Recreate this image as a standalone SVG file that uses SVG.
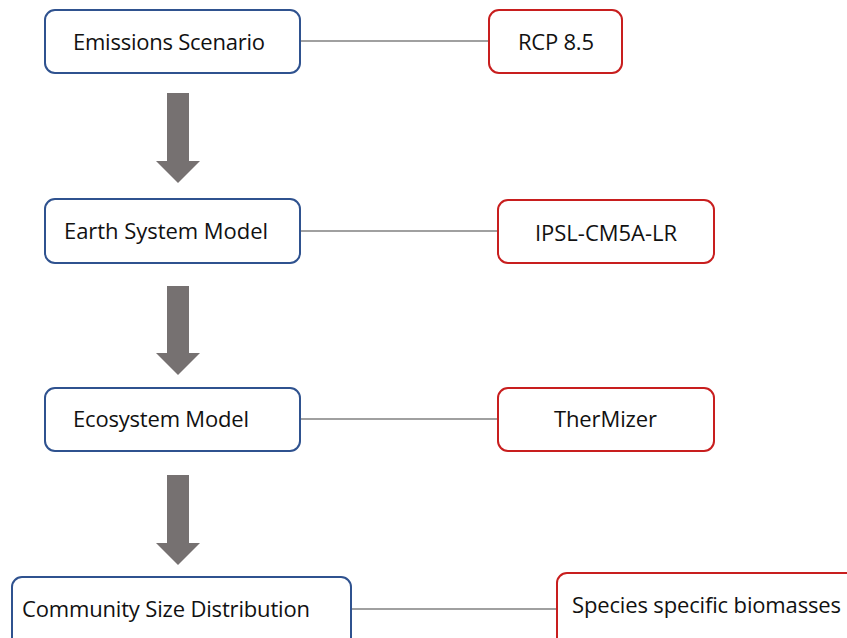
<svg xmlns="http://www.w3.org/2000/svg" width="847" height="638" viewBox="0 0 847 638">
<style>
.bl{fill:#fff;stroke:#2F528F;stroke-width:2}
.rd{fill:#fff;stroke:#C81E1E;stroke-width:2}
.t{font-family:"Open Sans","Liberation Sans",sans-serif;font-size:22px;fill:#111;font-variant-ligatures:none}
.ln{stroke:#808080;stroke-width:1.5;fill:none}
.ar{fill:#767171}
</style>
<rect width="847" height="638" fill="#fff"/>
<g id="connectors">
<line class="ln" x1="300" y1="41" x2="489" y2="41"/>
<line class="ln" x1="300" y1="231" x2="498" y2="231"/>
<line class="ln" x1="300" y1="419" x2="498" y2="419"/>
<line class="ln" x1="351" y1="609" x2="557" y2="609"/>
<polygon class="ar" points="167,93 189,93 189,161 200,161 178,183 156,161 167,161"/>
<polygon class="ar" points="167,286 189,286 189,353 200,353 178,375 156,353 167,353"/>
<polygon class="ar" points="167,475 189,475 189,543 200,543 178,565 156,543 167,543"/>
</g>
<g id="emissions">
<rect class="bl" x="45" y="10" width="255" height="63" rx="10"/>
<text class="t" x="73" y="50" textLength="192">Emissions Scenario</text>
</g>
<g id="rcp">
<rect class="rd" x="489" y="10" width="133" height="63" rx="10"/>
<text class="t" x="518" y="50" textLength="76">RCP 8.5</text>
</g>
<g id="esm">
<rect class="bl" x="45" y="199" width="255" height="64" rx="10"/>
<text class="t" x="64" y="239" textLength="204">Earth System Model</text>
</g>
<g id="ipsl">
<rect class="rd" x="498" y="200" width="216" height="63" rx="10"/>
<text class="t" x="535" y="241" textLength="142">IPSL-CM5A-LR</text>
</g>
<g id="eco">
<rect class="bl" x="45" y="388" width="255" height="63" rx="10"/>
<text class="t" x="73" y="427" textLength="176">Ecosystem Model</text>
</g>
<g id="thermizer">
<rect class="rd" x="498" y="388" width="216" height="63" rx="10"/>
<text class="t" x="554" y="427" textLength="103">TherMizer</text>
</g>
<g id="community">
<rect class="bl" x="12" y="577" width="339" height="80" rx="10"/>
<text class="t" x="22" y="617" textLength="288">Community Size Distribution</text>
</g>
<g id="species">
<rect class="rd" x="557" y="573" width="310" height="80" rx="10"/>
<text class="t" x="572" y="613" textLength="269">Species specific biomasses</text>
</g>
</svg>
